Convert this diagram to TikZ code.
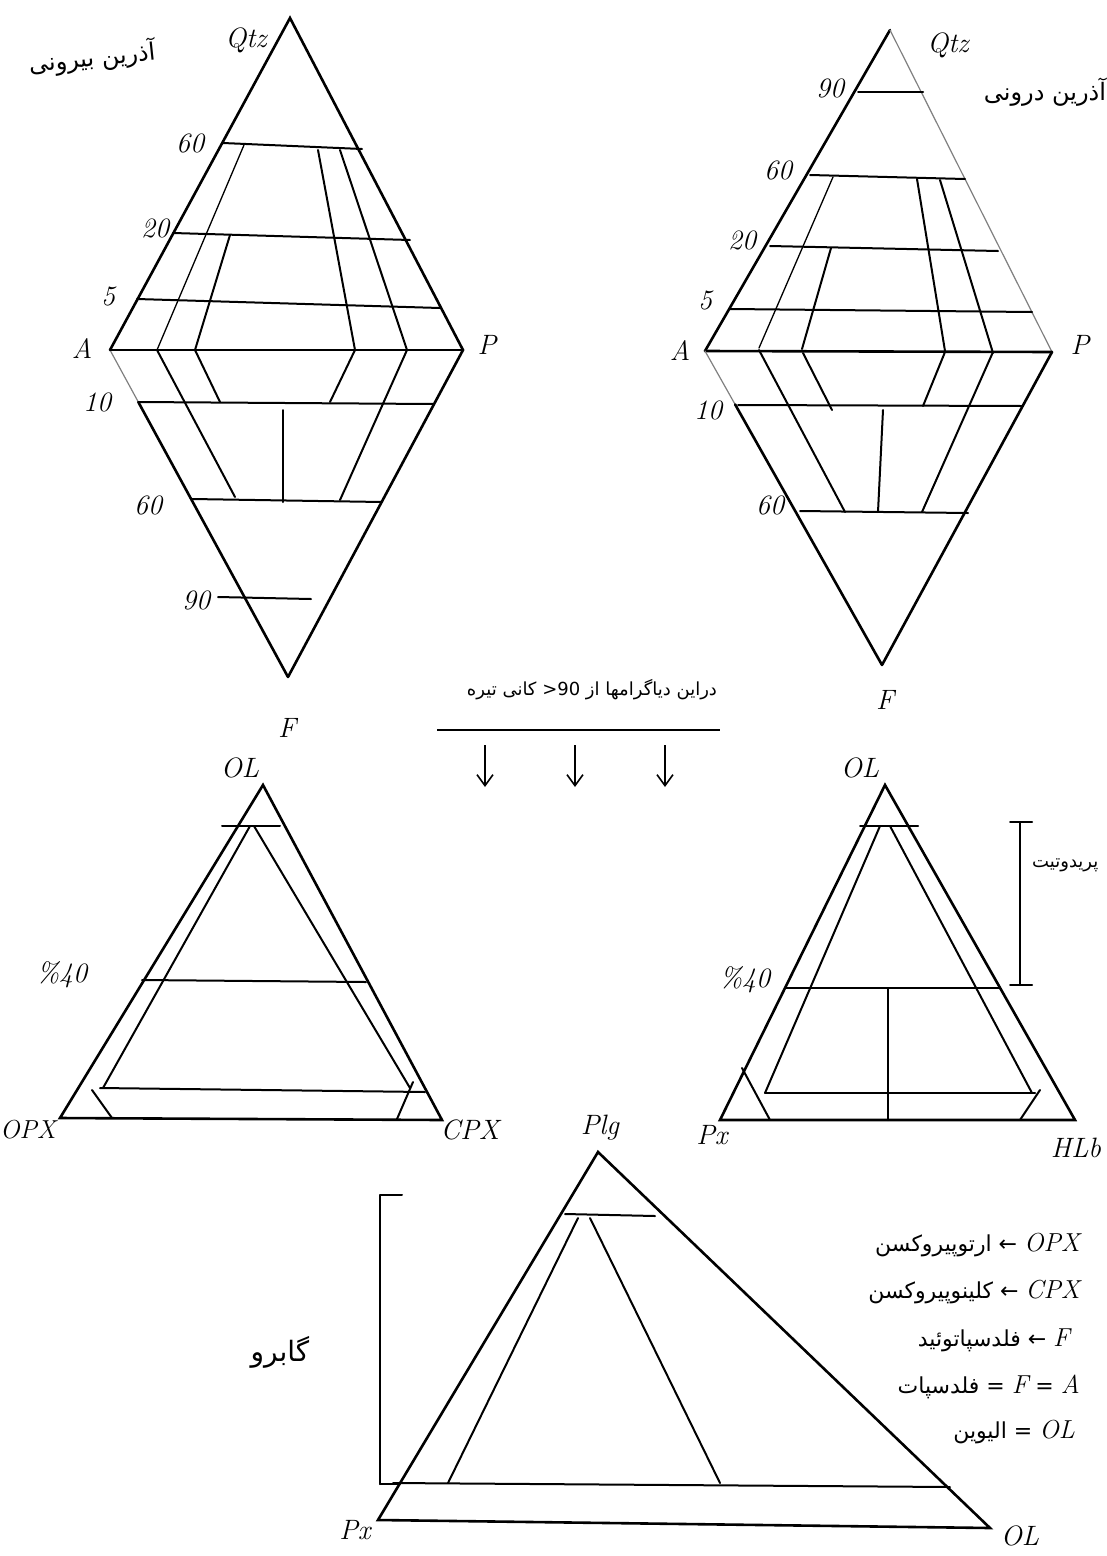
\documentclass[tikz,border=0pt]{standalone}
\usepackage{fontspec}
\usetikzlibrary{arrows.meta,calc}
\newfontfamily\fa[Script=Arabic]{DejaVu Sans}
\TeXXeTstate=1
\begin{document}
\begin{tikzpicture}[x=1pt,y=-1pt,
  edge/.style={line width=2.6pt, line cap=round},
  thinedge/.style={line width=1.2pt, gray, line cap=round},
  grid/.style={line width=2pt, line cap=round},
  lbl/.style={font=\fontsize{28}{30}\selectfont\itshape, inner sep=0pt},
  fatxt/.style={font=\fa\fontsize{24}{28}\selectfont, inner sep=0pt},
  legtxt/.style={font=\fa\fontsize{22}{26}\selectfont, inner sep=0pt, anchor=east},
  latin/.style={font=\normalfont\itshape},
  downarr/.style={-{Straight Barb[length=11pt,width=16pt]}, line width=1.6pt}]
\useasboundingbox (0,0) rectangle (1107,1556);
\fill[white] (0,0) rectangle (1107,1556);

% ---------------- left diamond (extrusive) ----------------
\coordinate (LQ) at (290,18);
\coordinate (LA) at (110,350);
\coordinate (LP) at (463,350);
\coordinate (LF) at (288,677);
\draw[edge] (LA) -- (LQ) -- (LP) -- (LF);
\draw[thinedge] (LA) -- ($(LA)!0.16!(LF)$);
\draw[edge] ($(LA)!0.16!(LF)$) -- (LF);
\draw[edge] (LA) -- (LP);
\draw[grid] (223,143) -- (362,149);
\draw[grid] (173,233) -- (410,240);
\draw[grid] (137,299) -- (440,308);
\draw[grid] (138,402) -- (434,404);
\draw[grid] (192,499) -- (382,502);
\draw[grid] (218,597) -- (311,599);
\draw[grid, line width=1.3pt] (244,145) -- (157,350);
\draw[grid] (230,235) -- (195,350);
\draw[grid] (318,150) -- (355,350);
\draw[grid] (340,150) -- (407,350);
\draw[grid] (157,350) -- (235,497);
\draw[grid] (195,350) -- (220,402);
\draw[grid] (355,350) -- (330,402);
\draw[grid] (407,350) -- (340,500);
\draw[grid] (283,410) -- (283,502);
\node[lbl] (lq) at (246,40) {Qtz};
\node[lbl] (l60a) at (190,143) {60};
\node[lbl] (l20) at (155,228) {20};
\node[lbl] (l5) at (108,296) {5};
\node[lbl] (lA) at (82,348) {A};
\node[lbl] (lP) at (487,345) {P};
\node[lbl] (l10) at (97,402) {10};
\node[lbl] (l60b) at (148,505) {60};
\node[lbl] (l90) at (196,600) {90};
\node[lbl] (lF) at (287,728) {F};
\node[fatxt, rotate=6] (tl) at (92,58) {\beginR آذرین بیرونی\endR};

% ---------------- right diamond (intrusive) ----------------
\coordinate (RQ) at (890,30);
\coordinate (RA) at (705,351);
\coordinate (RP) at (1052,352);
\coordinate (RF) at (882,665);
\draw[edge] (RA) -- (RQ);
\draw[thinedge] (RQ) -- (RP);
\draw[edge] (RA) -- (RP);
\draw[thinedge] (RA) -- ($(RA)!0.17!(RF)$);
\draw[edge] ($(RA)!0.17!(RF)$) -- (RF);
\draw[edge] (RP) -- (RF);
\draw[grid] (858,92) -- (923,92);
\draw[grid] (810,175) -- (965,179);
\draw[grid] (770,246) -- (998,251);
\draw[grid] (730,309) -- (1032,312);
\draw[grid] (738,405) -- (1022,406);
\draw[grid] (800,511) -- (968,513);
\draw[grid, line width=1.3pt] (833,177) -- (759,348);
\draw[grid] (831,248) -- (802,349);
\draw[grid] (917,179) -- (945,351);
\draw[grid] (940,180) -- (993,353);
\draw[grid] (759,350) -- (845,512);
\draw[grid] (803,353) -- (832,410);
\draw[grid] (945,352) -- (923,406);
\draw[grid] (993,352) -- (922,512);
\draw[grid] (883,410) -- (878,512);
\node[lbl] (rq) at (948,45) {Qtz};
\node[lbl] (r90) at (830,88) {90};
\node[lbl] (r60a) at (778,170) {60};
\node[lbl] (r20) at (742,240) {20};
\node[lbl] (r5) at (705,300) {5};
\node[lbl] (rA) at (680,350) {A};
\node[lbl] (rP) at (1080,345) {P};
\node[lbl] (r10) at (708,410) {10};
\node[lbl] (r60b) at (770,505) {60};
\node[lbl] (rF) at (885,700) {F};
\node[fatxt] (tr) at (1045,92) {\beginR آذرین درونی\endR};

% ---------------- middle note ----------------
\node[fatxt, font=\fa\fontsize{18}{24}\selectfont] (mid) at (592,690) {\beginR دراین دیاگرامها از \beginL 90<\endL{} کانی تیره\endR};
\coordinate (ulA) at (437,730);
\coordinate (ulB) at (720,730);
\draw[line width=1.6pt] (ulA) -- (ulB);
\foreach \x/\n in {485/a,575/b,665/c} {
  \coordinate (s\n) at (\x,745);
  \coordinate (e\n) at (\x,787);
  \draw[downarr] (s\n) -- (e\n);
}

% ---------------- triangle OL-OPX-CPX ----------------
\coordinate (T1O) at (263,785);
\coordinate (T1A) at (60,1118);
\coordinate (T1C) at (442,1120);
\draw[edge] (T1O) -- (T1A) -- (T1C) -- cycle;
\draw[grid] (222,826) -- (280,826);
\draw[grid] (250,826) -- (103,1088);
\draw[grid] (254,826) -- (410,1088);
\draw[grid] (142,980) -- (366,982);
\draw[grid] (100,1088) -- (425,1092);
\draw[grid] (92,1090) -- (112,1118);
\draw[grid] (413,1082) -- (397,1119);
\node[lbl] (t1o) at (240,768) {OL};
\node[lbl] (t1p) at (62,975) {\%40};
\node[lbl, anchor=west, font=\fontsize{26}{28}\selectfont\itshape] (t1a) at (0,1130) {OPX};
\node[lbl] (t1c) at (470,1130) {CPX};

% ---------------- triangle OL-Px-Hbl ----------------
\coordinate (T2O) at (885,785);
\coordinate (T2A) at (720,1120);
\coordinate (T2H) at (1075,1120);
\draw[edge] (T2O) -- (T2A) -- (T2H) -- cycle;
\draw[grid] (860,826) -- (918,826);
\draw[grid] (880,826) -- (765,1093);
\draw[grid] (890,826) -- (1032,1093);
\draw[grid] (785,988) -- (1000,988);
\draw[grid] (888,988) -- (888,1120);
\draw[grid] (765,1093) -- (1035,1093);
\draw[grid] (742,1068) -- (770,1120);
\draw[grid] (1040,1090) -- (1020,1120);
\node[lbl] (t2o) at (860,768) {OL};
\node[lbl] (t2p) at (745,980) {\%40};
\node[lbl] (t2a) at (712,1135) {Px};
\node[lbl] (t2h) at (1076,1148) {HLb};
\coordinate (b1t) at (1020,822);
\coordinate (b1b) at (1020,985);
\draw[grid] (b1t) -- (b1b);
\draw[grid] ($(b1t)+(-10,0)$) -- ($(b1t)+(12,0)$);
\draw[grid] ($(b1b)+(-10,0)$) -- ($(b1b)+(12,0)$);
\node[fatxt, anchor=west, font=\fa\fontsize{18}{22}\selectfont] (perid) at (1032,865) {\beginR پریدوتیت\endR};

% ---------------- triangle Plg-Px-OL ----------------
\coordinate (T3P) at (598,1152);
\coordinate (T3X) at (378,1520);
\coordinate (T3L) at (990,1528);
\draw[edge] (T3P) -- (T3X) -- (T3L) -- cycle;
\draw[grid] (565,1214) -- (655,1216);
\draw[grid] (578,1218) -- (448,1483);
\draw[grid] (590,1218) -- (720,1483);
\draw[grid] (393,1483) -- (950,1487);
\node[lbl] (t3p) at (600,1128) {Plg};
\node[lbl] (t3x) at (355,1530) {Px};
\node[lbl] (t3l) at (1020,1536) {OL};
\coordinate (b2t) at (380,1195);
\coordinate (b2b) at (380,1484);
\draw[grid] (b2t) -- (b2b);
\draw[grid] (b2t) -- ($(b2t)+(22,0)$);
\draw[grid] (b2b) -- ($(b2b)+(18,0)$);
\node[fatxt, font=\fa\fontsize{28}{32}\selectfont] (gab) at (280,1352) {\beginR گابرو\endR};

% ---------------- legend ----------------
\node[legtxt] (g1) at (1080,1245) {\beginR ارتوپیروکسن\endR\ ← {\fontsize{26}{28}\selectfont\normalfont\itshape OPX}};
\node[legtxt] (g2) at (1080,1292) {\beginR کلینوپیروکسن\endR\ ← {\fontsize{26}{28}\selectfont\normalfont\itshape CPX}};
\node[legtxt] (g3) at (1070,1340) {\beginR فلدسپاتوئید\endR\ ← {\fontsize{26}{28}\selectfont\normalfont\itshape F}};
\node[legtxt] (g4) at (1080,1387) {\beginR فلدسپات\endR\ = {\fontsize{26}{28}\selectfont\normalfont\itshape F} = {\fontsize{26}{28}\selectfont\normalfont\itshape A}};
\node[legtxt] (g5) at (1075,1432) {\beginR الیوین\endR\ = {\fontsize{26}{28}\selectfont\normalfont\itshape OL}};
\end{tikzpicture}
\end{document}
